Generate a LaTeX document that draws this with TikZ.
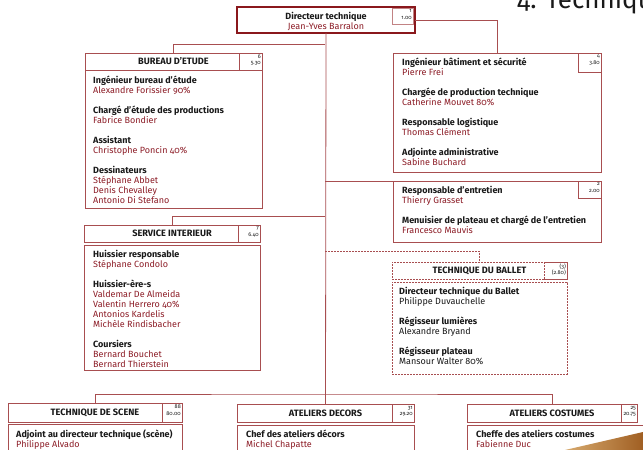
\documentclass[tikz,border=0pt]{standalone}
\usepackage{fontspec}
\setmainfont{Fira Sans}[Numbers=OldStyle]
\definecolor{frame}{RGB}{168,78,80}
\definecolor{darkframe}{RGB}{138,24,28}
\definecolor{namecol}{RGB}{140,28,38}
\definecolor{titlecol}{RGB}{25,25,25}
\definecolor{tanL}{RGB}{215,170,110}
\definecolor{tanD}{RGB}{160,95,35}
\newcommand{\ptitle}[1]{\textcolor{titlecol}{\bfseries #1}}
\newcommand{\pname}[1]{\textcolor{namecol}{#1}}
\newcommand{\bname}[1]{\textcolor{titlecol}{#1}}
\tikzset{
  box/.style={rectangle, draw=frame, line width=0.8pt, inner sep=0pt, outer sep=0pt, anchor=north west},
  dbox/.style={box, dash pattern=on 2pt off 1pt},
  conn/.style={draw=frame, line width=0.8pt},
  dconn/.style={conn, dash pattern=on 2pt off 1pt},
  numtxt/.style={font=\fontsize{5.5}{6.5}\selectfont, align=right, anchor=north east, inner sep=0pt, text=titlecol},
  headtxt/.style={font=\fontsize{9.2}{10}\selectfont\bfseries, text=titlecol, inner sep=0pt},
  bodytxt/.style={anchor=base west, inner sep=0pt, font=\fontsize{9}{10}\selectfont},
}
\begin{document}
\begin{tikzpicture}[x=1pt,y=-1pt]
\clip (0,0) rectangle (643,450);
\fill[white] (0,0) rectangle (643,450);

% page title, cut at the top
\node[anchor=base west, inner sep=0pt, font=\fontsize{26}{26}\selectfont, text=titlecol] (pagetitle) at (517,8) {4. Technique};

% top box
\node[box, draw=darkframe, line width=2.6pt, minimum width=178pt, minimum height=26pt] (top) at (237,7) {};
\node[box, minimum width=21pt, minimum height=16pt, draw=frame!70] (topN) at (392,8) {};
\node[numtxt] at ([xshift=-1pt,yshift=-1.5pt]topN.north east) {1\\1.00};
\node[anchor=base, inner sep=0pt, font=\fontsize{9}{10}\selectfont] (topT) at (326,19) {\ptitle{Directeur technique}};
\node[anchor=base, inner sep=0pt, font=\fontsize{9}{10}\selectfont] (topP) at (326,29) {\pname{Jean-Yves Barralon}};

% trunk coordinates
\coordinate (j1) at (325,44);
\coordinate (j3) at (325,181);
\coordinate (j2) at (325,216);
\coordinate (j4) at (325,251);
\coordinate (j5) at (325,394);

% BUREAU D'ETUDE
\node[box, minimum width=177pt, minimum height=17pt] (burH) at (85,53) {};
\node[box, minimum width=23pt, minimum height=17pt] (burN) at (239,53) {};
\node[box, minimum width=177pt, minimum height=138pt] (burB) at (85,70) {};
\node[headtxt] (burT) at (burH.center) {BUREAU D'ETUDE};
\node[numtxt] at ([xshift=-1pt,yshift=-1.5pt]burN.north east) {6\\5.30};
\node[bodytxt] (burTxt) at (93,83) {\parbox[t]{165pt}{%
\ptitle{Ingénieur bureau d'étude}\\
\pname{Alexandre Forissier 90\%}\\[10pt]
\ptitle{Chargé d'étude des productions}\\
\pname{Fabrice Bondier}\\[10pt]
\ptitle{Assistant}\\
\pname{Christophe Poncin 40\%}\\[10pt]
\ptitle{Dessinateurs}\\
\pname{Stéphane Abbet}\\
\pname{Denis Chevalley}\\
\pname{Antonio Di Stefano}}};

% right box 1
\node[box, minimum width=208pt, minimum height=119pt] (r1) at (393,53) {};
\node[box, minimum width=23pt, minimum height=19pt] (r1N) at (578,53) {};
\node[numtxt] at ([xshift=-1pt,yshift=-1.5pt]r1N.north east) {4\\3.80};
\node[bodytxt] (r1Txt) at (402,65) {\parbox[t]{175pt}{%
\ptitle{Ingénieur bâtiment et sécurité}\\
\pname{Pierre Frei}\\[10pt]
\ptitle{Chargée de production technique}\\
\pname{Catherine Mouvet 80\%}\\[10pt]
\ptitle{Responsable logistique}\\
\pname{Thomas Clément}\\[10pt]
\ptitle{Adjointe administrative}\\
\pname{Sabine Buchard}}};

% right box 2
\node[box, minimum width=208pt, minimum height=61pt] (r2) at (393,181) {};
\node[box, minimum width=23pt, minimum height=17pt] (r2N) at (578,181) {};
\node[numtxt] at ([xshift=-1pt,yshift=-1.5pt]r2N.north east) {2\\2.00};
\node[bodytxt] (r2Txt) at (402,193) {\parbox[t]{198pt}{%
\ptitle{Responsable d'entretien}\\
\pname{Thierry Grasset}\\[10pt]
\ptitle{Menuisier de plateau et chargé de l'entretien}\\
\pname{Francesco Mauvis}}};

% SERVICE INTERIEUR
\node[box, minimum width=176pt, minimum height=17pt] (serH) at (84,225) {};
\node[box, minimum width=22pt, minimum height=17pt] (serN) at (238,225) {};
\node[box, minimum width=176pt, minimum height=125pt] (serB) at (84,245) {};
\node[headtxt] (serT) at (serH.center) {SERVICE INTERIEUR};
\node[numtxt] at ([xshift=-1pt,yshift=-1.5pt]serN.north east) {7\\6.40};
\node[bodytxt] (serTxt) at (93,257) {\parbox[t]{160pt}{%
\ptitle{Huissier responsable}\\
\pname{Stéphane Condolo}\\[10pt]
\ptitle{Huissier-ère-s}\\
\pname{Valdemar De Almeida}\\
\pname{Valentin Herrero 40\%}\\
\pname{Antonios Kardelis}\\
\pname{Michèle Rindisbacher}\\[10pt]
\ptitle{Coursiers}\\
\pname{Bernard Bouchet}\\
\pname{Bernard Thierstein}}};

% TECHNIQUE DU BALLET
\node[dbox, minimum width=175pt, minimum height=17pt] (balH) at (392,262) {};
\node[dbox, minimum width=23pt, minimum height=17pt] (balN) at (544,262) {};
\node[dbox, minimum width=175pt, minimum height=92pt] (balB) at (392,282) {};
\node[headtxt] (balT) at (balH.center) {TECHNIQUE DU BALLET};
\node[numtxt] at ([xshift=-1pt,yshift=-1.5pt]balN.north east) {(3)\\(2.80)};
\node[bodytxt] (balTxt) at (399,294) {\parbox[t]{165pt}{%
\ptitle{Directeur technique du Ballet}\\
\bname{Philippe Duvauchelle}\\[10pt]
\ptitle{Régisseur lumières}\\
\bname{Alexandre Bryand}\\[10pt]
\ptitle{Régisseur plateau}\\
\bname{Mansour Walter 80\%}}};

% TECHNIQUE DE SCENE
\node[box, minimum width=174pt, minimum height=19pt] (scH) at (8,403) {};
\node[box, minimum width=20pt, minimum height=19pt] (scN) at (162,403) {};
\node[box, minimum width=174pt, minimum height=40pt] (scB) at (8,424) {};
\node[headtxt] (scT) at (scH.center) {TECHNIQUE DE SCENE};
\node[numtxt] at ([xshift=-1pt,yshift=-2pt]scN.north east) {88\\80.00};
\node[bodytxt] (scTxt) at (16,437) {\parbox[t]{170pt}{%
\ptitle{Adjoint au directeur technique (scène)}\\
\pname{Philippe Alvado}}};

% ATELIERS DECORS
\node[box, minimum width=177pt, minimum height=18pt] (deH) at (237,404) {};
\node[box, minimum width=22pt, minimum height=18pt] (deN) at (392,404) {};
\node[box, minimum width=177pt, minimum height=40pt] (deB) at (237,425) {};
\node[headtxt] (deT) at (deH.center) {ATELIERS DECORS};
\node[numtxt] at ([xshift=-1pt,yshift=-2pt]deN.north east) {31\\29.20};
\node[bodytxt] (deTxt) at (246,437) {\parbox[t]{160pt}{%
\ptitle{Chef des ateliers décors}\\
\pname{Michel Chapatte}}};

% ATELIERS COSTUMES
\node[box, minimum width=170pt, minimum height=18pt] (coH) at (467,404) {};
\node[box, minimum width=16pt, minimum height=18pt] (coN) at (621,404) {};
\node[box, minimum width=190pt, minimum height=40pt] (coB) at (467,425) {};
\node[headtxt] (coT) at (coH.center) {ATELIERS COSTUMES};
\node[numtxt] at ([xshift=-1pt,yshift=-2pt]coN.north east) {25\\20.75};
\node[bodytxt] (coTxt) at (476,437) {\parbox[t]{160pt}{%
\ptitle{Cheffe des ateliers costumes}\\
\pname{Fabienne Duc}}};

% decorative corner
\shade[left color=tanL, right color=tanD] (565,450) -- (643,432) -- (643,450) -- cycle;

% connectors
\draw[conn] (top.south) -- (deH.north);
\draw[conn] (top.east) -| (r1.north);
\draw[conn] (j1) -| (burH.north);
\draw[conn] (j2) -| (serH.north);
\draw[conn] (j3) -- (r2.north west);
\draw[dconn] (j4) -| (balH.north);
\draw[conn] (scH.north) |- (j5) -| (coH.north);
\end{tikzpicture}
\end{document}
